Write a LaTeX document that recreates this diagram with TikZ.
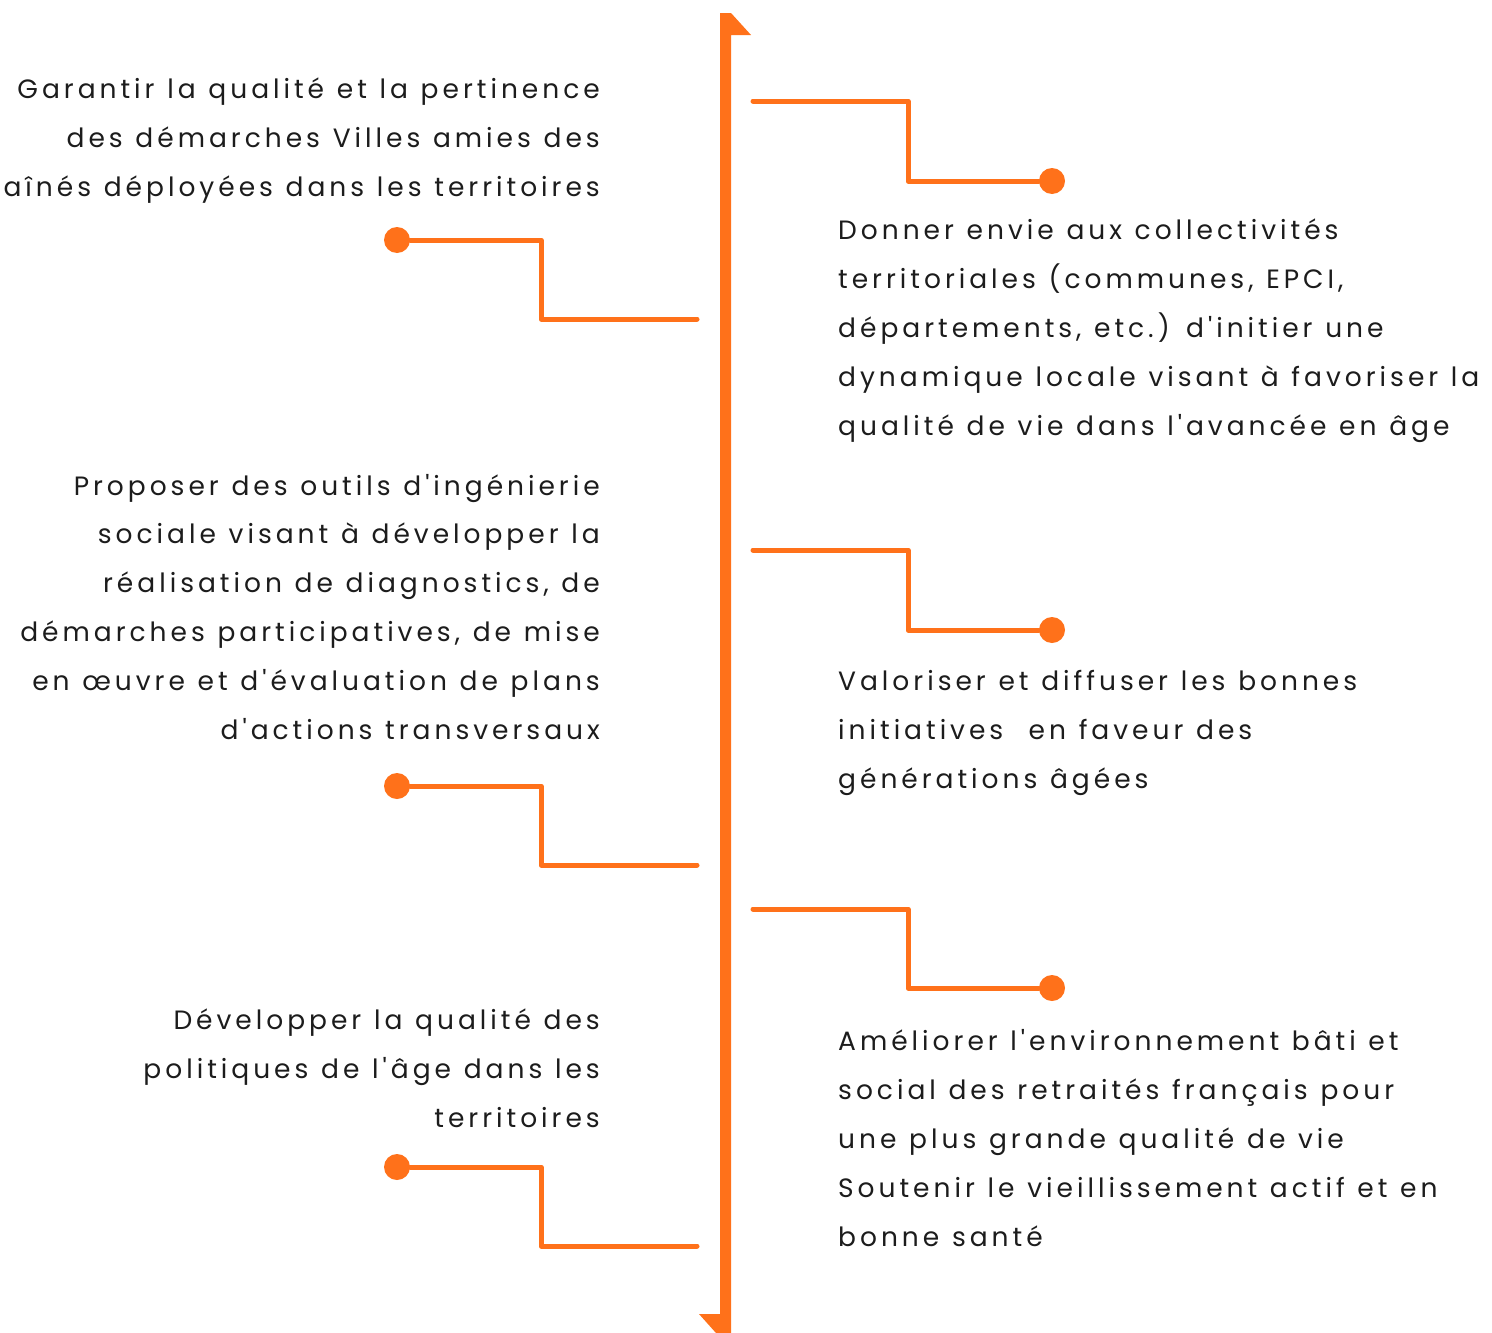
\documentclass[tikz,border=0pt]{standalone}
\usepackage{fontspec}
\setmainfont{Poppins}[LetterSpace=15, WordSpace=1.15, Ligatures=TeXOff]
\definecolor{timeorange}{RGB}{255,113,26}
\definecolor{goaltext}{RGB}{28,28,28}

\tikzset{
    branch/.style={draw=timeorange, line width=5pt, line cap=round, line join=round},
    pin/.style={circle, fill=timeorange, minimum size=26pt, inner sep=0pt},
    goal/.style={inner sep=0pt, text=goaltext, font=\fontsize{26.5}{48.8}\selectfont},
}

\begin{document}
\begin{tikzpicture}[x=1pt, y=-1pt]
    \useasboundingbox (0,0) rectangle (1492,1333);

    % Main vertical bar with its two flags
    \fill[timeorange] (720,13) -- (731,13) -- (751,35) -- (731,35) -- (731,1333)
        -- (716,1333) -- (699,1314) -- (720,1314) -- cycle;

    % Left side: dot, then step down to the bar
    \foreach \i/\yd/\yb in {1/240/319, 2/786/865, 3/1167/1246}{
        \node[pin] (dotL\i) at (397,\yd) {};
        \coordinate (barL\i) at (697,\yb);
        \draw[branch] (dotL\i) -- ++(144,0) |- (barL\i);
    }

    % Right side: from the bar, step down to the dot
    \foreach \i/\yb/\yd in {1/101/181, 2/550/630, 3/909/988}{
        \node[pin] (dotR\i) at (1052,\yd) {};
        \coordinate (barR\i) at (753,\yb);
        \draw[branch] (barR\i) -- (908,\yb) |- (dotR\i);
    }

    % Left texts (anchored on the baseline of their last line)
    \node[goal, align=right, anchor=base east] (goalL1) at (600,196)
        {Garantir la qualité et la pertinence\\des démarches Villes amies des\\aînés déployées dans les territoires};
    \node[goal, align=right, anchor=base east] (goalL2) at (600,739)
        {Proposer des outils d'ingénierie\\sociale visant à développer la\\réalisation de diagnostics, de\\démarches participatives, de mise\\en œuvre et d'évaluation de plans\\d'actions transversaux};
    \node[goal, align=right, anchor=base east] (goalL3) at (600,1127)
        {Développer la qualité des\\politiques de l'âge dans les\\territoires};

    % Right texts
    \node[goal, align=left, anchor=base west] (goalR1) at (838,435)
        {Donner envie aux collectivités\\territoriales (communes, EPCI,\\départements, etc.) d'initier une\\dynamique locale visant à favoriser la\\qualité de vie dans l'avancée en âge};
    \node[goal, align=left, anchor=base west] (goalR2) at (838,788)
        {Valoriser et diffuser les bonnes\\initiatives\ \ en faveur des\\générations âgées};
    \node[goal, align=left, anchor=base west] (goalR3) at (838,1246)
        {Améliorer l'environnement bâti et\\social des retraités français pour\\une plus grande qualité de vie\\Soutenir le vieillissement actif et en\\bonne santé};
\end{tikzpicture}
\end{document}
